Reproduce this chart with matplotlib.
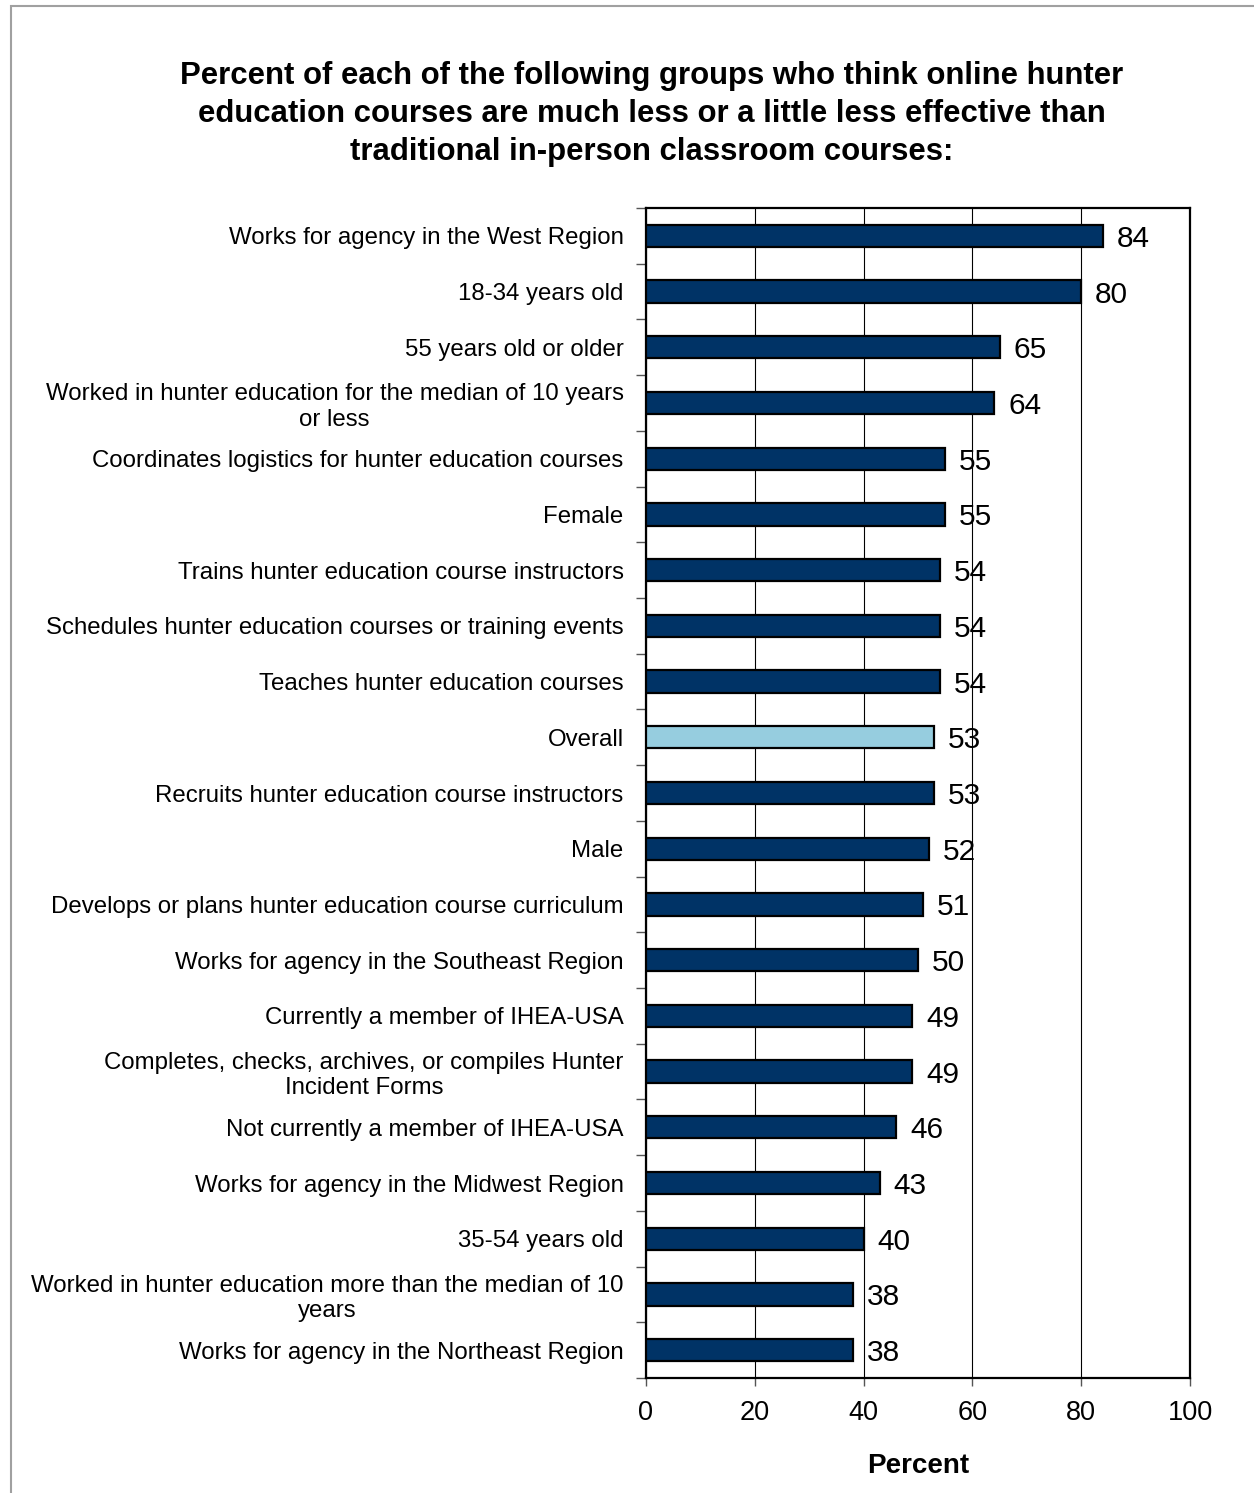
import matplotlib.pyplot as plt
from matplotlib.patches import Rectangle
from matplotlib.ticker import FixedLocator

plt.rcParams['font.family'] = ['Liberation Sans', 'DejaVu Sans']

labels = ['Works for agency in the West Region',
          '18-34 years old',
          '55 years old or older',
          'Worked in hunter education for the median of 10 years\nor less',
          'Coordinates logistics for hunter education courses',
          'Female',
          'Trains hunter education course instructors',
          'Schedules hunter education courses or training events',
          'Teaches hunter education courses',
          'Overall',
          'Recruits hunter education course instructors',
          'Male',
          'Develops or plans hunter education course curriculum',
          'Works for agency in the Southeast Region',
          'Currently a member of IHEA-USA',
          'Completes, checks, archives, or compiles Hunter\nIncident Forms',
          'Not currently a member of IHEA-USA',
          'Works for agency in the Midwest Region',
          '35-54 years old',
          'Worked in hunter education more than the median of 10\nyears',
          'Works for agency in the Northeast Region']
values = [84, 80, 65, 64, 55, 55, 54, 54, 54, 53, 53, 52, 51, 50, 49, 49, 46, 43, 40, 38, 38]
highlight = 'Overall'

dark = '#003366'
light = '#96cddf'

fig = plt.figure(figsize=(12.54, 14.93), dpi=100)
ax = fig.add_axes([0.515, 0.077, 0.434, 0.7837])

n = len(labels)
ypos = list(range(n))
colors = [light if l == highlight else dark for l in labels]
ax.barh(ypos, values, height=0.4, color=colors, edgecolor='black', linewidth=1.6, zorder=3)

for y, v in zip(ypos, values):
    ax.annotate(str(v), (v, y), xytext=(10, 0), textcoords='offset points',
                va='center_baseline', ha='left', fontsize=21.5, zorder=4)

ax.set_ylim(n - 0.5, -0.5)
ax.set_xlim(0, 100)
ax.set_xticks([0, 20, 40, 60, 80, 100])
ax.set_yticks(ypos)
ax.set_yticklabels(labels, fontsize=17.3, multialignment='center')
ax.yaxis.set_minor_locator(FixedLocator([i - 0.5 for i in range(n + 1)]))
ax.tick_params(axis='y', which='major', length=0, pad=16)
ax.tick_params(axis='y', which='minor', length=7, width=1, color='#555555')
ax.tick_params(axis='x', labelsize=19.5, length=6, width=1, color='#555555', pad=10)

ax.grid(axis='x', color='black', linewidth=0.8, zorder=0)
for s in ax.spines.values():
    s.set_linewidth(1.6)
    s.set_color('black')

ax.set_xlabel('Percent', fontsize=20, fontweight='bold', labelpad=19)

fig.text(0.52, 0.959,
         'Percent of each of the following groups who think online hunter\n'
         'education courses are much less or a little less effective than\n'
         'traditional in-person classroom courses:',
         ha='center', va='top', fontsize=22.4, fontweight='bold', linespacing=1.34)

fig.patches.append(Rectangle((11 / 1254, -0.05), 1.1, 1.05 - 6 / 1493,
                             transform=fig.transFigure, fill=False,
                             edgecolor='#a0a0a0', linewidth=1.5))

fig.savefig('out.png', dpi=100)
